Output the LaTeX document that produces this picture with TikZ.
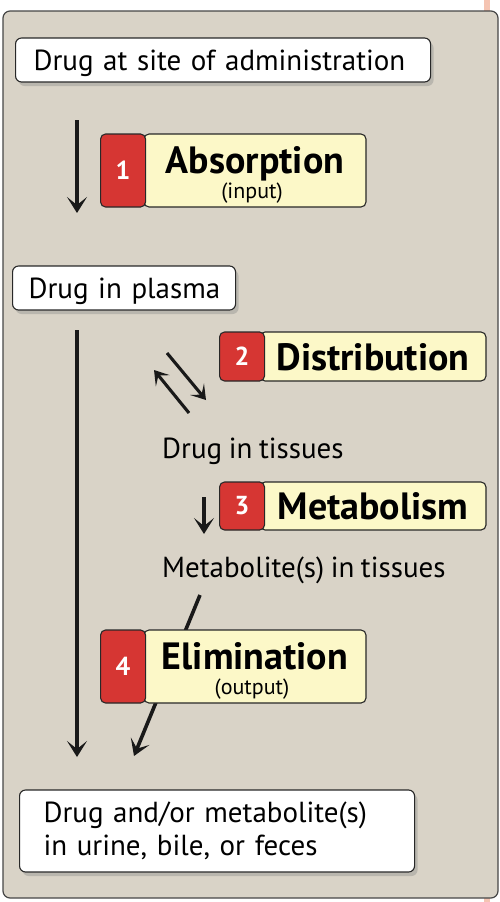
\documentclass[tikz,border=0pt]{standalone}
\usepackage{fontspec}
\setmainfont[WordSpace=0.85]{PT Sans}
\usetikzlibrary{arrows.meta,shadows}
\definecolor{panelfill}{RGB}{217,211,199}
\definecolor{panelline}{RGB}{70,70,70}
\definecolor{boxline}{RGB}{40,40,40}
\definecolor{stepyellow}{RGB}{252,248,200}
\definecolor{stepred}{RGB}{214,54,51}
\definecolor{salmon}{RGB}{245,196,178}
\newcommand{\bodyfont}{\fontsize{29}{33}\selectfont}
\newcommand{\titlefont}{\fontsize{38}{40}\selectfont\bfseries}
\newcommand{\subfont}{\fontsize{22}{24}\selectfont}
\newcommand{\numfont}{\fontsize{26}{28}\selectfont\bfseries}
\tikzset{
  whitebox/.style={draw=boxline, line width=1.1pt, fill=white, rounded corners=6pt,
    align=left, anchor=west, font=\bodyfont,
    drop shadow={opacity=0.35, shadow xshift=3pt, shadow yshift=-4pt}},
  yellowbox/.style={draw=boxline, line width=1.1pt, fill=stepyellow, rounded corners=5pt,
    align=center, inner sep=0pt, font=\titlefont},
  twoline/.style={text height=27pt, text depth=22pt},
  oneline/.style={text depth=0pt},
  subtext/.style={font=\subfont, inner sep=0pt, anchor=base},
  redbox/.style={draw=boxline, line width=1.1pt, fill=stepred, rounded corners=5pt,
    text=white, font=\numfont, inner sep=0pt, anchor=west},
  plaintext/.style={font=\bodyfont, inner sep=0pt, anchor=base west},
  flow/.style={line width=3.6pt, draw=black!90, -{Stealth[length=16pt,width=20pt,inset=8pt]}},
  thinflow/.style={line width=3.1pt, draw=black!90, -{Stealth[length=14pt,width=18pt,inset=7pt]}}
}
\begin{document}
\begin{tikzpicture}[x=1pt,y=-1pt]
\useasboundingbox (0,0) rectangle (500,902);
\fill[salmon] (484,0) rectangle (490,902);
\draw[panelline, line width=1.2pt, fill=panelfill, rounded corners=7pt] (3,11) rectangle (498,898);

% white boxes
\node[whitebox, minimum height=44pt, text width=379pt, inner xsep=18pt, text depth=0pt] (site) at (15,60)
  {Drug at site of administration};
\node[whitebox, minimum height=44pt, text width=191pt, inner xsep=16pt, text depth=0pt] (plasma) at (12,288)
  {\mbox{Drug in plasma}};
\node[whitebox, minimum height=82pt, text width=347pt, inner xsep=24pt] (excreta) at (19,831)
  {Drug and/or metabolite(s)\\in urine, bile, or feces};

% plain texts
\node[plaintext] (tissues) at (162,458) {Drug in tissues};
\node[plaintext] (metab) at (162,577) {Metabolite(s) in tissues};

% arrow coordinates
\coordinate (a1s) at (77,120);
\coordinate (a1e) at (77,213);
\coordinate (a2s) at (77,330);
\coordinate (a2e) at (77,757);
\coordinate (d1s) at (167,353);
\coordinate (d1e) at (206,400);
\coordinate (d2s) at (189,413);
\coordinate (d2e) at (154,370);
\coordinate (m1s) at (204,497);
\coordinate (m1e) at (204,534);
\coordinate (e1s) at (200,595);
\coordinate (e1e) at (134,756);

\draw[flow] (a1s) -- (a1e);
\draw[flow] (a2s) -- (a2e);
\draw[thinflow] (d1s) -- (d1e);
\draw[thinflow] (d2s) -- (d2e);
\draw[flow] (m1s) -- (m1e);
\draw[flow] (e1s) -- (e1e);

% step boxes
\node[yellowbox, twoline, minimum width=222pt, minimum height=73pt] (absorb) at (255,170.5)
  {Absorption};
\node[subtext] (absorbsub) at (252,198.5) {(input)};
\node[redbox, minimum width=45pt, minimum height=73pt] (n1) at (100,170.5) {1};

\node[yellowbox, oneline, minimum width=226pt, minimum height=49pt] (distr) at (373,356.5)
  {Distribution};
\node[redbox, minimum width=45pt, minimum height=49pt] (n2) at (219,356.5) {2};

\node[yellowbox, oneline, minimum width=226pt, minimum height=48pt] (metabolism) at (373,506)
  {Metabolism};
\node[redbox, minimum width=45pt, minimum height=48pt] (n3) at (219,506) {3};

\node[yellowbox, twoline, minimum width=222pt, minimum height=73pt] (elim) at (255,666.5)
  {Elimination};
\node[subtext] (elimsub) at (252,694.5) {(output)};
\node[redbox, minimum width=45pt, minimum height=73pt] (n4) at (100,666.5) {4};
\end{tikzpicture}
\end{document}
